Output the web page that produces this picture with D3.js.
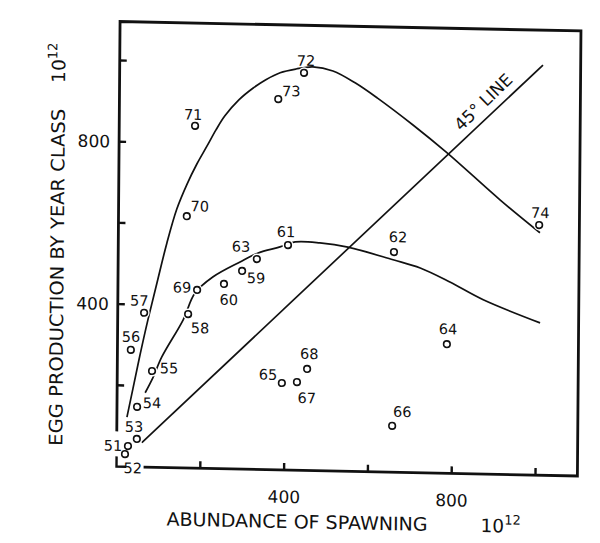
<!DOCTYPE html>
<html>
<head>
<meta charset="utf-8">
<script src="https://cdn.jsdelivr.net/npm/d3@7"></script>
<style>
  html, body { margin: 0; padding: 0; background: #fff; }
  svg { display: block; }
  text { font-family: "DejaVu Sans", sans-serif; fill: #111; }
</style>
</head>
<body>
<svg id="chart" width="600" height="543"></svg>
<script>
// ---- data ----
const years    = ["51","52","53","54","55","56","57","58","59","60","61","62","63","64","65","66","67","68","69","70","71","72","73","74"];
const spawning = [27, 20, 48, 48, 83, 32, 63, 168, 296, 253, 405, 658, 331, 786, 393, 657, 429, 453, 189, 163, 181, 440, 379, 1004];
const eggs     = [51, 31, 69, 148, 237, 288, 380, 379, 488, 455, 554, 542, 518, 318, 214, 114, 217, 250, 439, 620, 843, 979, 913, 616];

const upperCurveX = [24, 38, 54, 72, 93, 116, 139, 163, 186, 210, 231, 252, 285, 319, 349, 383, 421, 461, 509, 562, 615, 701, 783, 910, 1006];
const upperCurveY = [122, 194, 276, 362, 454, 553, 637, 699, 749, 794, 834, 869, 909, 939, 960, 978, 988, 994, 985, 957, 921, 856, 789, 676, 597];
const lowerCurveX = [67, 85, 106, 156, 184, 227, 291, 334, 386, 422, 481, 548, 656, 721, 792, 872, 1008];
const lowerCurveY = [183, 220, 272, 364, 431, 472, 510, 533, 549, 562, 561, 552, 523, 504, 471, 429, 375];
const lineX = [60, 1010];
const lineY = [60, 1010];

const xTicks = [200, 400, 600, 800, 1000];
const yTicks = [200, 400, 600, 800, 1000];
const xTickLabels = [400, 800];
const yTickLabels = [400, 800];

// ---- layout (label offsets in px relative to each point) ----
const labelOffset = {
  "51":[-15,0], "52":[8,14], "53":[-3,-12], "54":[15,-4], "55":[17,-3], "56":[0,-13],
  "57":[-5,-12], "58":[12,14], "59":[14,7], "60":[5,16], "61":[-2,-13], "62":[4,-15],
  "63":[-16,-12], "64":[1,-15], "65":[-14,-8], "66":[10,-14], "67":[10,16], "68":[2,-15],
  "69":[-15,-2], "70":[13,-10], "71":[-2,-11], "72":[2,-12], "73":[13,-8], "74":[1,-12]
};

const ox = 116.5, oy = 466.5;
const x = d3.scaleLinear().domain([0, 1100]).range([ox, ox + 1100 * 0.419]);
const y = d3.scaleLinear().domain([0, 1096]).range([oy, oy - 1096 * 0.406]);

const svg = d3.select("#chart");
const g = svg.append("g")
  .attr("transform", `translate(${ox},${oy}) matrix(1,0.0205,-0.008,1,0,0) translate(${-ox},${-oy})`);

const ink = "#111";
// frame
const frame = g.append("g").attr("fill", "none").attr("stroke", ink).attr("stroke-width", 2.8)
  .attr("stroke-linecap", "square");
frame.append("path").attr("d", d3.line()([
  [x(0), y(90)], [x(0), y(1096)], [x(1100), y(1096)], [x(1100), y(0)], [x(68), y(0)]
]));
frame.append("path").attr("stroke-width", 2.4).attr("d", d3.line()([
  [x(0), y(22)], [x(0), y(0)], [x(20), y(0)]
]));

// ticks (inward)
const tk = g.append("g").attr("stroke", ink).attr("stroke-width", 2.4);
xTicks.forEach(v => tk.append("line").attr("x1", x(v)).attr("x2", x(v)).attr("y1", y(0)).attr("y2", y(0) - 7));
yTicks.forEach(v => tk.append("line").attr("y1", y(v)).attr("y2", y(v)).attr("x1", x(0)).attr("x2", x(0) + 7));

// tick labels
xTickLabels.forEach(v => g.append("text").attr("x", x(v)).attr("y", y(0) + 33)
  .attr("text-anchor", "middle").attr("font-size", 17).text(v));
yTickLabels.forEach(v => g.append("text").attr("x", x(0) - 9).attr("y", y(v) + 6)
  .attr("text-anchor", "end").attr("font-size", 17).text(v));

// axis titles
g.append("text").attr("x", 167).attr("y", oy + 58).attr("font-size", 18.5)
  .attr("textLength", 261).attr("lengthAdjust", "spacingAndGlyphs").text("ABUNDANCE OF SPAWNING");
const xu = g.append("text").attr("x", 481).attr("y", oy + 58).attr("font-size", 18.5);
xu.append("tspan").text("10");
xu.append("tspan").attr("font-size", 13).attr("dy", -8).text("12");

g.append("text").attr("transform", "translate(62,447) rotate(-90)").attr("font-size", 18.5)
  .attr("textLength", 337).attr("lengthAdjust", "spacingAndGlyphs").text("EGG PRODUCTION BY YEAR CLASS");
const yu = g.append("text").attr("transform", "translate(62,84) rotate(-90)").attr("font-size", 18.5);
yu.append("tspan").text("10");
yu.append("tspan").attr("font-size", 13).attr("dy", -8).text("12");

// curves
const curve = d3.line().x(d => x(d[0])).y(d => y(d[1])).curve(d3.curveCatmullRom.alpha(0.5));
const lines = g.append("g").attr("fill", "none").attr("stroke", ink).attr("stroke-width", 1.7);
lines.append("path").attr("d", curve(upperCurveX.map((v, i) => [v, upperCurveY[i]])));
lines.append("path").attr("d", curve(lowerCurveX.map((v, i) => [v, lowerCurveY[i]])));
lines.append("path").attr("d", d3.line().x(d => x(d[0])).y(d => y(d[1]))(lineX.map((v, i) => [v, lineY[i]])));

// 45 degree label
g.append("text")
  .attr("transform", `translate(${x(868)},${y(916)}) rotate(-45)`)
  .attr("text-anchor", "middle").attr("dominant-baseline", "central")
  .attr("font-size", 17).text("45° LINE");

// points
const pts = g.append("g");
years.forEach((yr, i) => {
  const cx = x(spawning[i]), cy = y(eggs[i]);
  pts.append("circle").attr("cx", cx).attr("cy", cy).attr("r", 5.5).attr("fill", "#fff");
});
years.forEach((yr, i) => {
  const cx = x(spawning[i]), cy = y(eggs[i]);
  pts.append("circle").attr("cx", cx).attr("cy", cy).attr("r", 3.3)
    .attr("fill", "#fff").attr("stroke", ink).attr("stroke-width", 1.6);
  const off = labelOffset[yr];
  pts.append("text").attr("x", cx + off[0]).attr("y", cy + off[1] + 5)
    .attr("text-anchor", "middle").attr("font-size", 14.5).text(yr);
});
</script>
</body>
</html>
